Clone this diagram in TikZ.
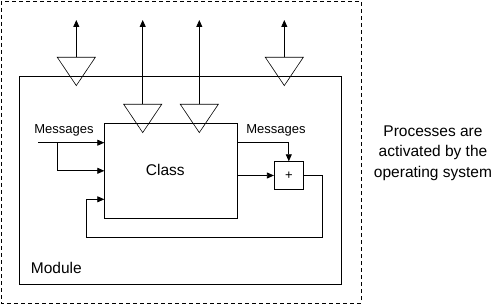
\documentclass[tikz,border=0pt]{standalone}
\usepackage{fontspec}
\setmainfont{Liberation Sans}
\usetikzlibrary{arrows.meta,positioning}

\begin{document}
\begin{tikzpicture}[x=1pt,y=-1pt,
    box/.style={rectangle, draw, line width=0.8pt, inner sep=0pt},
    tri/.style={line width=0.6pt, line join=miter},
    arr/.style={-{Triangle[length=7pt,width=6pt]}, line width=0.8pt},
    lbl/.style={font=\fontsize{13}{15}\selectfont, inner sep=0pt},
    big/.style={font=\fontsize{15.5}{20.5}\selectfont, inner sep=0pt}
  ]
  \useasboundingbox (0,0) rectangle (497,304);

  % Process boundary
  \draw[dash pattern=on 4pt off 3pt, line width=0.8pt] (1,1) rectangle (361,303);

  % Module
  \node[box, minimum width=321.3pt, minimum height=208pt] (module) at (180.35,180.3) {};
  \node[big, anchor=west] (modlbl) at (30.7,268.3) {Module};

  % Class and adder
  \node[box, minimum width=132.6pt, minimum height=95pt] (class) at (171,170.8) {};
  \node[big] (classlbl) at (165.3,170.3) {Class};
  \node[box, lbl, minimum width=29pt, minimum height=27.6pt] (plus) at (288.8,175.5) {+};

  % Ports with outgoing arrows
  \foreach \n/\x/\y in {pa/76.3/57.3, pb/142.7/104.3, pc/199.3/104.3, pd/284.3/57.3} {
    \draw[tri] (\x-19,\y) -- (\x+19,\y) -- (\x,\y+28.3) -- cycle;
    \coordinate (\n) at (\x,\y);
    \coordinate (\n out) at (\x,20);
    \draw[arr] (\n) -- (\n out);
  }

  % Incoming messages
  \node[lbl] (msgin) at (64,130.7) {Messages};
  \coordinate (in) at (38.3,142.7);
  \coordinate (split) at (57.3,142.7);
  \draw[arr] (in) -- (in -| class.west);
  \draw[arr] (split) |- (class.west);

  % Outgoing messages
  \node[lbl] (msgout) at (276,130.7) {Messages};
  \draw[arr] (class.east |- in) -| (plus.north);
  \draw[arr] (class.east |- plus.west) -- (plus.west);

  % Feedback loop
  \coordinate (loop) at (86.3,237.3);
  \coordinate (fb) at (86.3,199.3);
  \draw[arr] (plus.east) -- ++(18.7,0) |- (loop) -- (fb) -- (fb -| class.west);

  % Note
  \node[big, align=center] (note) at (433,153) {Processes are\\activated by the\\operating system};
\end{tikzpicture}
\end{document}
